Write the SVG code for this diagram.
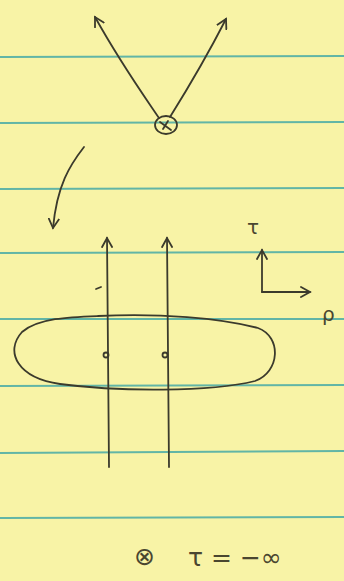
<svg xmlns="http://www.w3.org/2000/svg" width="344" height="581" viewBox="0 0 344 581">
<defs>
<style>
.rule{stroke:#62b5a6;stroke-width:2;fill:none}
.ink{stroke:#3b3a2c;stroke-width:1.8;fill:none;stroke-linecap:round;stroke-linejoin:round}
.lbl{font-family:"DejaVu Sans",sans-serif;fill:#4a4630;font-size:20px}
.big{font-size:25px}
</style>
<marker id="ah" viewBox="0 0 12 12" refX="10" refY="6" markerWidth="12" markerHeight="12" markerUnits="userSpaceOnUse" orient="auto">
<path d="M1,1 L10,6 L1,11" fill="none" stroke="#3b3a2c" stroke-width="1.8" stroke-linecap="round"/>
</marker>
</defs>
<rect width="344" height="581" fill="#f8f3a6"/>
<g id="rules">
<line class="rule" x1="0" y1="57" x2="344" y2="56"/>
<line class="rule" x1="0" y1="123" x2="344" y2="122"/>
<line class="rule" x1="0" y1="189" x2="344" y2="188"/>
<line class="rule" x1="0" y1="253" x2="344" y2="252"/>
<line class="rule" x1="0" y1="319" x2="344" y2="319"/>
<line class="rule" x1="0" y1="386" x2="344" y2="385"/>
<line class="rule" x1="0" y1="453" x2="344" y2="451"/>
<line class="rule" x1="0" y1="518" x2="344" y2="517"/>
</g>
<g id="vertex">
<ellipse class="ink" cx="166" cy="125" rx="11" ry="9"/>
<path class="ink" d="M160,122 L171,130 M168,121 L163,129"/>
</g>
<g id="curve-arrow">
<path class="ink" d="M84,147 C70,165 57,185 53,228" marker-end="url(#ah)"/>
</g>
<g id="blob">
<path class="ink" d="M98,316 C160,313 220,318 258,328 C282,337 280,372 255,381 C210,392 120,392 60,384 C18,378 4,352 22,332 C38,318 70,317 98,316 Z"/>
<circle class="ink" cx="106" cy="355" r="2.5"/>
<circle class="ink" cx="165" cy="355" r="2.5"/>
<path class="ink" d="M96,289 L101,287"/>
</g>
<g id="axes">
<path class="ink" d="M262,292 L262,250" marker-end="url(#ah)"/>
<path class="ink" d="M262,292 L310,292" marker-end="url(#ah)"/>
<text class="lbl" x="247" y="234">τ</text>
<text class="lbl" x="322" y="321">ρ</text>
</g>
<g id="legend">
<text class="lbl big" x="134" y="565">⊗</text>
<text class="lbl big" x="188" y="566">τ = −∞</text>
</g>
<g id="connectors">
<path class="ink" d="M159,118 C140,90 120,62 95,17" marker-end="url(#ah)"/>
<path class="ink" d="M170,117 C190,85 205,60 226,19" marker-end="url(#ah)"/>
<path class="ink" d="M109,467 L107,238" marker-end="url(#ah)"/>
<path class="ink" d="M169,467 L167,238" marker-end="url(#ah)"/>
</g>
</svg>
